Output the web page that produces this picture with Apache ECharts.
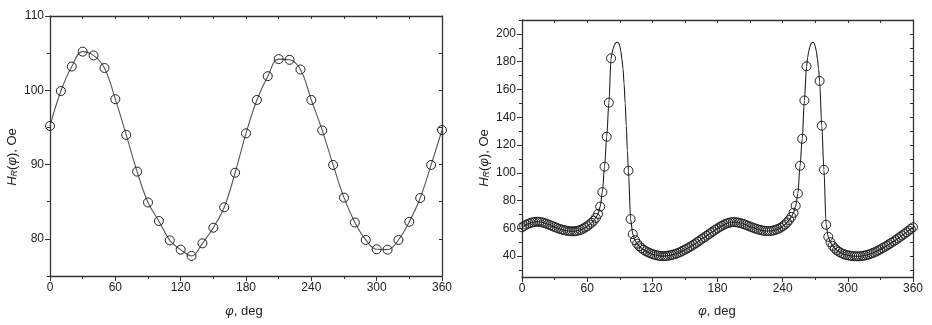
<!DOCTYPE html>
<html>
<head>
<meta charset="utf-8">
<script src="https://cdn.jsdelivr.net/npm/echarts@6/dist/echarts.min.js"></script>
<style>
html,body{margin:0;padding:0;background:#fff;}
#c{width:932px;height:325px;}
</style>
</head>
<body>
<div id="c"></div>
<script>
// ---- Left panel data (phi in deg, H_R in Oe) ----
const leftPhi = [0,10,20,30,40,50,60,70,80,90,100,110,120,130,140,150,160,170,180,190,200,210,220,230,240,250,260,270,280,290,300,310,320,330,340,350,360];
const leftH = [95.2,99.9,103.2,105.2,104.7,103.0,98.8,94.0,89.05,84.9,82.4,79.8,78.55,77.7,79.4,81.5,84.25,88.9,94.2,98.7,101.9,104.2,104.1,102.8,98.7,94.6,89.95,85.55,82.2,79.85,78.6,78.55,79.85,82.3,85.5,89.95,94.65];

// ---- Right panel data: measured points ----
const rightPhi = [0,2,4,6,8,10,12,14,16,18,20,22,24,26,28,30,32,34,36,38,40,42,44,46,48,50,52,54,56,58,60,62,64,66,68,70,72,74,76,78,80,82,
98,100,102,104,106,108,110,112,114,116,118,120,122,124,126,128,130,132,134,136,138,140,142,144,146,148,150,152,154,156,158,160,162,164,166,168,170,172,174,176,178,180,182,184,186,188,190,192,194,196,198,200,202,204,206,208,210,212,214,216,218,220,222,224,226,228,230,232,234,236,238,240,242,244,246,248,250,252,254,256,258,260,262,
274,276,278,280,282,284,286,288,290,292,294,296,298,300,302,304,306,308,310,312,314,316,318,320,322,324,326,328,330,332,334,336,338,340,342,344,346,348,350,352,354,356,358,360];
const rightH = [60.8,61.8,62.7,63.4,64.0,64.4,64.7,64.8,64.7,64.4,64.0,63.5,62.9,62.3,61.6,61.0,60.4,59.8,59.3,58.9,58.5,58.2,58.0,57.9,57.9,58.1,58.5,59.0,59.7,60.6,61.5,62.8,64.0,65.5,67.6,70.4,75.7,86.1,104.4,126.0,150.5,182.4,
101.5,66.7,55.9,51.5,49.0,47.2,45.8,44.6,43.6,42.8,42.1,41.5,41.0,40.6,40.3,40.1,40.0,40.1,40.3,40.6,40.9,41.3,41.8,42.4,43.1,43.9,44.7,45.5,46.4,47.3,48.3,49.3,50.4,51.5,52.6,53.6,54.7,55.8,56.9,57.9,59.0,60.0,61.0,61.9,62.7,63.4,63.9,64.3,64.5,64.5,64.3,64.0,63.6,63.1,62.5,61.9,61.3,60.7,60.1,59.6,59.1,58.7,58.4,58.2,58.1,58.1,58.3,58.6,59.1,59.7,60.5,61.5,62.7,64.2,66.0,68.3,71.2,76.3,85.1,105.1,124.5,152.1,176.7,
166.1,133.9,102.2,62.6,53.9,50.0,47.4,45.6,44.2,43.1,42.2,41.5,41.0,40.6,40.3,40.1,40.0,39.9,39.9,40.0,40.2,40.5,40.9,41.4,42.0,42.6,43.3,44.1,44.9,45.8,46.7,47.6,48.6,49.6,50.6,51.6,52.7,53.8,54.9,56.0,57.2,58.4,59.6,60.8];

// ---- Right panel: fitted curve near the peaks ----
const peakPhi = [83,84,85,86,87,88,89,90,91,92,93,94,95,96,97, 263,264,265,266,267,268,269,270,271,272,273];
const peakH = [186.5,189.5,191.7,193.2,193.9,194.0,193.4,191.5,187.5,182,175,164,150,134,116, 183,187.5,190.5,192.8,193.8,194,193.3,191,187.5,182,175];

// axis ticks
const leftYLabels = [80,90,100,110];
const leftYMinor = [75,85,95,105];
const rightYLabels = [40,60,80,100,120,140,160,180,200];
const rightYMinor = [30,50,70,90,110,130,150,170,190,210];

const leftData = leftPhi.map((p,i)=>[p,leftH[i]]);
const rightData = rightPhi.map((p,i)=>[p,rightH[i]]);
const fitData = rightData.concat(peakPhi.map((p,i)=>[p,peakH[i]])).sort((a,b)=>a[0]-b[0]);

const FONT = 'Liberation Sans, Arial, sans-serif';
const TXT = '#222';
const AX = '#333';

function xAxes(grid){
  return [
    {type:'value', gridIndex:grid, position:'bottom', min:0, max:360, interval:60,
     axisLine:{show:true,onZero:false,lineStyle:{color:AX,width:1.3}},
     axisTick:{show:true,inside:false,length:5,lineStyle:{color:AX}},
     minorTick:{show:true,splitNumber:2,length:3,lineStyle:{color:AX}},
     axisLabel:{color:TXT,fontFamily:FONT,fontSize:12,margin:6},
     splitLine:{show:false}},
    {type:'value', gridIndex:grid, position:'top', min:0, max:360, interval:30,
     axisLine:{show:true,onZero:false,lineStyle:{color:AX,width:1.3}},
     axisTick:{show:true,inside:true,length:3,lineStyle:{color:AX}},
     axisLabel:{show:false}, splitLine:{show:false}}
  ];
}
function yAxes(grid,min,max,labels,minor){
  return [
    {type:'value', gridIndex:grid, position:'left', min:min, max:max,
     axisLine:{show:true,onZero:false,lineStyle:{color:AX,width:1.3}},
     axisTick:{show:true,inside:false,length:5,customValues:labels,lineStyle:{color:AX}},
     axisLabel:{color:TXT,fontFamily:FONT,fontSize:12,margin:6,customValues:labels},
     splitLine:{show:false}},
    {type:'value', gridIndex:grid, position:'left', min:min, max:max,
     axisLine:{show:false},
     axisTick:{show:true,inside:false,length:3,customValues:minor,lineStyle:{color:AX}},
     axisLabel:{show:false}, splitLine:{show:false}},
    {type:'value', gridIndex:grid, position:'right', min:min, max:max,
     axisLine:{show:true,onZero:false,lineStyle:{color:AX,width:1.3}},
     axisTick:{show:true,inside:true,length:3,customValues:labels.concat(minor),lineStyle:{color:AX}},
     axisLabel:{show:false}, splitLine:{show:false}}
  ];
}

const chart = echarts.init(document.getElementById('c'), null, {renderer:'canvas'});
const titleRich = {
  i:{fontFamily:FONT,fontSize:13,fontStyle:'italic',fill:TXT},
  s:{fontFamily:FONT,fontSize:9,fontStyle:'italic',fill:TXT,verticalAlign:'bottom'},
  n:{fontFamily:FONT,fontSize:13,fill:TXT}
};
chart.setOption({
  animation:false,
  backgroundColor:'#fff',
  grid:[
    {left:50, right:490, top:16, bottom:49},
    {left:522, right:19, top:20, bottom:48}
  ],
  xAxis: xAxes(0).concat(xAxes(1)),
  yAxis: yAxes(0,75,110,leftYLabels,leftYMinor).concat(yAxes(1,25,210,rightYLabels,rightYMinor)),
  series:[
    {type:'line', xAxisIndex:0, yAxisIndex:0, data:leftData, smooth:0.4,
     symbol:'none', lineStyle:{color:'#555',width:1.1}, z:2},
    {type:'scatter', xAxisIndex:0, yAxisIndex:0, data:leftData,
     symbol:'circle', symbolSize:9,
     itemStyle:{color:'rgba(255,255,255,0)',opacity:1,borderColor:'#222',borderWidth:1}, z:3},
    {type:'line', xAxisIndex:2, yAxisIndex:3, data:fitData, smooth:0.3, smoothMonotone:'x',
     symbol:'none', lineStyle:{color:'#222',width:1.1}, z:2},
    {type:'scatter', xAxisIndex:2, yAxisIndex:3, data:rightData,
     symbol:'circle', symbolSize:9,
     itemStyle:{color:'rgba(255,255,255,0)',opacity:1,borderColor:'#222',borderWidth:1}, z:3}
  ],
  graphic:[
    {type:'text', x:12, y:157, rotation:Math.PI/2,
     style:{text:'{i|H}{s|R}{n|(}{i|φ}{n|), Oe}', rich:titleRich, align:'center', verticalAlign:'middle'}},
    {type:'text', x:484, y:158, rotation:Math.PI/2,
     style:{text:'{i|H}{s|R}{n|(}{i|φ}{n|), Oe}', rich:titleRich, align:'center', verticalAlign:'middle'}},
    {type:'text', x:244, y:311,
     style:{text:'{i|φ}{n|, deg}', rich:titleRich, align:'center', verticalAlign:'middle'}},
    {type:'text', x:717, y:311,
     style:{text:'{i|φ}{n|, deg}', rich:titleRich, align:'center', verticalAlign:'middle'}}
  ]
});
</script>
</body>
</html>
